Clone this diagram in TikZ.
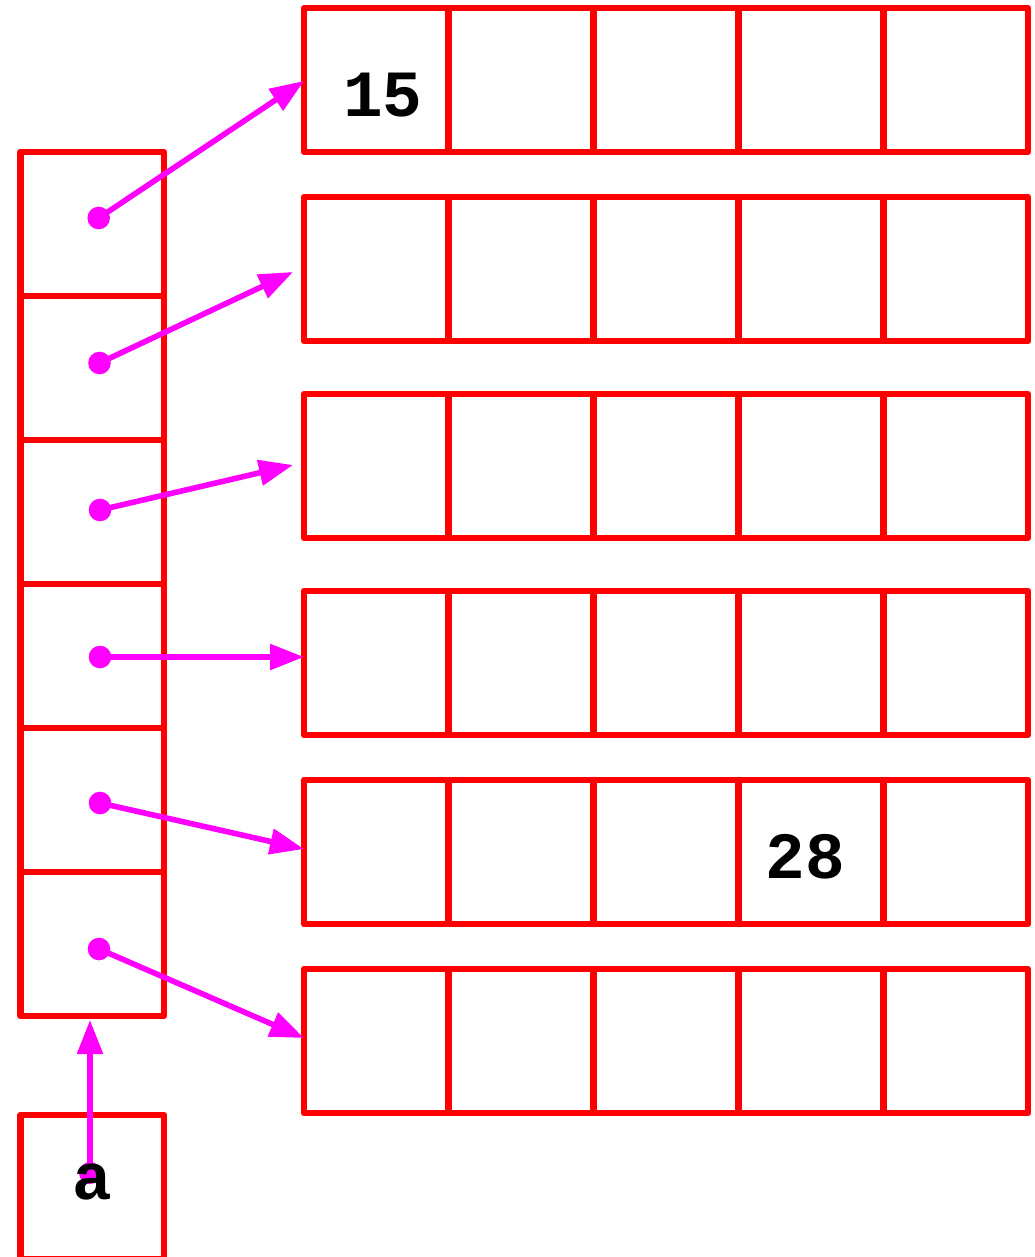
\documentclass[tikz,border=0pt]{standalone}
\usepackage{fontspec}
\newfontfamily\monob{Liberation Mono}
\usetikzlibrary{arrows.meta}
\definecolor{pred}{RGB}{255,0,0}
\definecolor{pmag}{RGB}{255,0,255}
\begin{document}
\begin{tikzpicture}[x=1pt,y=-1pt,
  cell/.style={draw=pred, line width=6.8pt, line join=round, rectangle, inner sep=0pt,
    minimum width=144.8pt, minimum height=144pt, anchor=center},
  colcell/.style={cell, minimum width=143.3pt},
  ptr/.style={draw=pmag, line width=5.6pt, -{Triangle[length=34pt,width=25pt]}},
  dot/.style={fill=pmag},
  val/.style={font=\monob\bfseries\fontsize{66}{66}\selectfont, text=black, inner sep=0pt}]
\useasboundingbox (0,0) rectangle (1035,1257);
\clip (0,0) rectangle (1035,1257);
% row arrays
\foreach \r/\yc in {1/80,2/269,3/466,4/663,5/852,6/1041}{
  \foreach \c in {1,...,5}{
    \node[cell] (r\r c\c) at ({304+144.8*(\c-0.5)},\yc) {};
  }
}
% column of pointers
\foreach \i in {1,...,6}{
  \node[colcell] (p\i) at (92.3,{152+144*(\i-0.5)}) {};
}
% variable a box
\node[colcell] (abox) at (92.3,1187) {};
% dots and ends
\coordinate (d1) at (98.7,218);
\coordinate (d2) at (99.5,363);
\coordinate (d3) at (100,510);
\coordinate (d4) at (100,657);
\coordinate (d5) at (100,803);
\coordinate (d6) at (99,949);
\coordinate (e1) at (304,81);
\coordinate (e2) at (293,272);
\coordinate (e3) at (293,465);
\coordinate (e4) at (304,657);
\coordinate (e5) at (304,849);
\coordinate (e6) at (304,1038);
\foreach \i in {1,...,6}{
  \draw[ptr] (d\i) -- (e\i);
  \fill[dot] (d\i) circle (11.3);
}
% pointer from a
\coordinate (da) at (90,1173);
\coordinate (ea) at (90,1020);
\draw[ptr] (da) -- (ea);
\fill[dot] (da) circle (11);
% values
\node[val] (v15) at (383,95) {15};
\node[val] (v28) at (805,857) {28};
\node[val] (va) at (92,1182) {a};
\end{tikzpicture}
\end{document}
